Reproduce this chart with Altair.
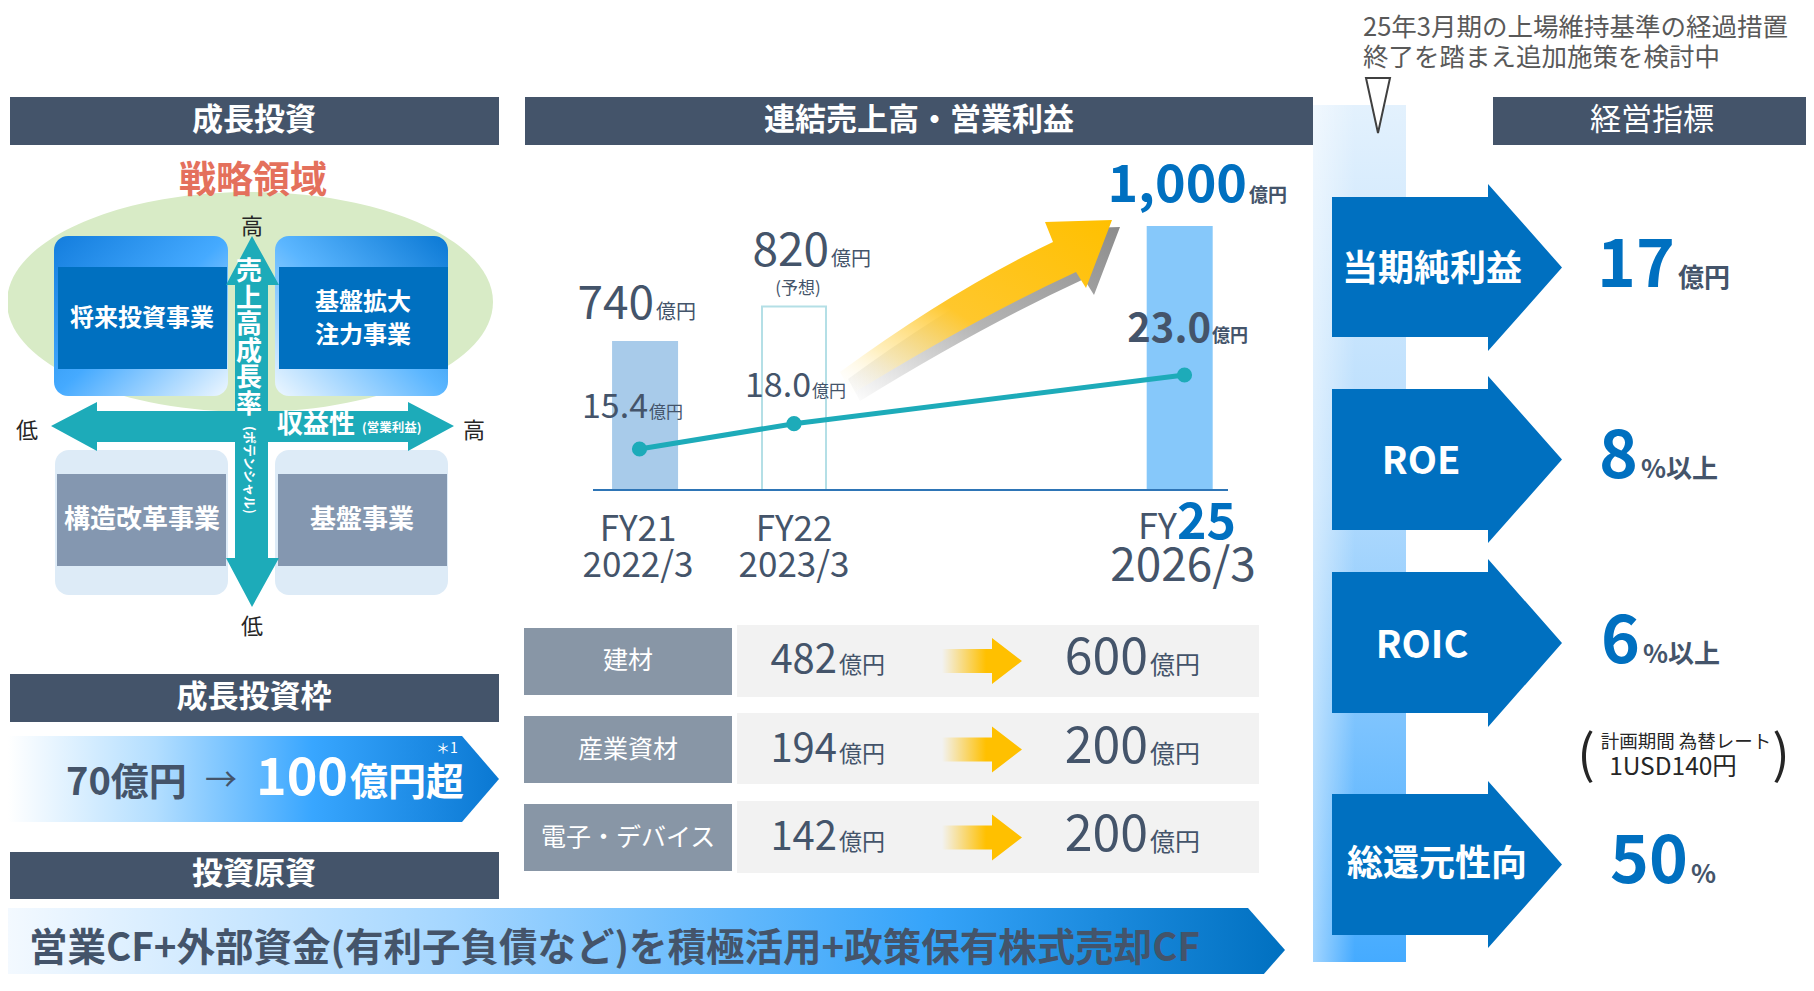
import altair as alt
import pandas as pd

# ---------------- data ----------------
fiscal_years = [21, 22, 25]
fy_labels = ["FY21", "FY22", "FY25"]
period_labels = ["2022/3", "2023/3", "2026/3"]
sales = [740, 820, 1000]            # 連結売上高 (億円)
op_profit = [15.4, 18.0, 23.0]      # 営業利益 (億円)
segments = ["建材", "産業資材", "電子・デバイス"]
segment_fy21 = [482, 194, 142]
segment_fy25 = [600, 200, 200]
kpi_names = ["当期純利益", "ROE", "ROIC", "総還元性向"]
kpi_values = ["17", "8", "6", "50"]
kpi_units = ["億円", "%以上", "%以上", "%"]
quadrants = ["将来投資事業", "基盤拡大\n注力事業", "構造改革事業", "基盤事業"]
growth_frame = ["70億円", "100", "億円超"]
fund_source = "営業CF+外部資金(有利子負債など)を積極活用+政策保有株式売却CF"
note_lines = ["25年3月期の上場維持基準の経過措置", "終了を踏まえ追加施策を検討中"]
fx_note = ["計画期間 為替レート", "1USD140円"]

# ---------------- styles ----------------
FONT = "Noto Sans CJK JP"
DARK = "#44546A"
HDR = "#44546A"
BLUE = "#0070C0"
TEAL = "#1DABB9"
WHITE = "#FFFFFF"
INK = "#262626"
bar_fills = ["#A8CBEA", "#FFFFFF", "#86C8FA"]
bar_strokes = ["#A8CBEA", "#B4DFE6", "#86C8FA"]

W, H = 1798, 966
OX, OY = 8, 8


def PX(f):
    return alt.X(f"{f}:Q", scale=alt.Scale(domain=[OX, OX + W], range=[0, W], nice=False, zero=False), axis=None)


def PY(f):
    return alt.Y(f"{f}:Q", scale=alt.Scale(domain=[OY, OY + H], range=[0, H], nice=False, zero=False), axis=None)


def grad(stops, x1=0, y1=0, x2=1, y2=0):
    return alt.LinearGradient(
        gradient="linear",
        stops=[alt.GradientStop(color=c, offset=o) for o, c in stops],
        x1=x1, y1=y1, x2=x2, y2=y2,
    )


# ---------------- layout: rectangles ----------------
rects = pd.DataFrame([
    # headers
    (10, 499, 97, 145, HDR, 0),
    (525, 1313, 97, 145, HDR, 0),
    (1493, 1812, 97, 145, HDR, 0),
    (10, 499, 674, 722, HDR, 0),
    (10, 499, 852, 899, HDR, 0),
    # lower quadrant frames
    (55, 228, 450, 595, "#DDEBF7", 14),
    (275, 448, 450, 595, "#DDEBF7", 14),
    # quadrant cores
    (58, 227, 267, 369, BLUE, 0),
    (279, 448, 267, 369, BLUE, 0),
    (57, 226, 474, 566, "#8497B0", 0),
    (278, 447, 474, 566, "#8497B0", 0),
    # table
    (524, 732, 628, 695, "#8896A6", 0),
    (524, 732, 716, 783, "#8896A6", 0),
    (524, 732, 804, 871, "#8896A6", 0),
    (737, 1259, 625, 697, "#F2F2F2", 0),
    (737, 1259, 713, 784, "#F2F2F2", 0),
    (737, 1259, 801, 873, "#F2F2F2", 0),
], columns=["x", "x2", "y", "y2", "fill", "r"])

row_centers = [661, 749.5, 837.5]


def rect_layers(df):
    out = []
    # rounded frames first, square cores on top
    for r, g in sorted(df.groupby("r"), key=lambda t: -t[0]):
        out.append(
            alt.Chart(g.reset_index(drop=True)).mark_rect(cornerRadius=float(r)).encode(
                x=PX("x"), x2=alt.X2("x2"), y=PY("y"), y2=alt.Y2("y2"),
                fill=alt.Fill("fill:N", scale=None),
            )
        )
    return out


def one_rect(x, x2, y, y2, fill, r=0):
    return alt.Chart(pd.DataFrame([dict(x=x, x2=x2, y=y, y2=y2)])).mark_rect(
        cornerRadius=r, fill=fill).encode(x=PX("x"), x2=alt.X2("x2"), y=PY("y"), y2=alt.Y2("y2"))


# ---------------- layout: polygons ----------------
def arrow_right(sid, x0, xb, xt, y0, y1, hy0=None, hy1=None):
    hy0 = y0 if hy0 is None else hy0
    hy1 = y1 if hy1 is None else hy1
    yc = (hy0 + hy1) / 2
    return [dict(sid=sid, x=x0, y=y0, y2=y1), dict(sid=sid, x=xb, y=y0, y2=y1),
            dict(sid=sid, x=xb + 0.01, y=hy0, y2=hy1), dict(sid=sid, x=xt, y=yc, y2=yc)]


def area_layer(rows, **mark):
    return alt.Chart(pd.DataFrame(rows)).mark_area(orient="vertical", **mark).encode(
        x=PX("x"), y=PY("y"), y2=alt.Y2("y2"), detail="sid:N")


def varea_layer(rows, **mark):
    return alt.Chart(pd.DataFrame(rows)).mark_area(orient="horizontal", **mark).encode(
        y=PY("y"), x=PX("x"), x2=alt.X2("x2"), detail="sid:N")


h_arrow = [dict(sid="h", x=51, y=426, y2=426), dict(sid="h", x=97, y=402, y2=451),
           dict(sid="h", x=97.01, y=411, y2=442), dict(sid="h", x=408, y=411, y2=442),
           dict(sid="h", x=408.01, y=402, y2=451), dict(sid="h", x=454, y=426, y2=426)]
v_arrow = [dict(sid="v", y=236, x=252, x2=252), dict(sid="v", y=285, x=226, x2=279),
           dict(sid="v", y=285.01, x=235, x2=268), dict(sid="v", y=558, x=235, x2=268),
           dict(sid="v", y=558.01, x=226, x2=279), dict(sid="v", y=607, x=252, x2=252)]
triangle = [dict(sid="t", y=78, x=1366, x2=1390), dict(sid="t", y=133, x=1378, x2=1378)]

kpi_rows = [(197, 337, 184, 351), (389, 530, 376, 543), (572, 713, 559, 727), (794, 935, 781, 948)]
kpi_arrows = []
for i, (a, b, c, d) in enumerate(kpi_rows):
    kpi_arrows += arrow_right(f"k{i}", 1332, 1488, 1562, a, b, c, d)

table_arrows = []
for i, c in enumerate(row_centers):
    table_arrows += arrow_right(f"t{i}", 942, 992, 1022, c - 12, c + 12, c - 23, c + 23)

growth_banner = arrow_right("g", 8, 462, 499, 736, 822)
fund_banner = arrow_right("f", 8, 1248, 1285, 908, 992)

# custom-path shapes (size=4 -> path units are pixels)
ELLIPSE = "M-243,0A243,110,0,1,1,243,0A243,110,0,1,1,-243,0Z"
BIG_ARROW = "M0,0L-67,2L-59,22Q-160,70,-272,152L-260,174Q-140,100,-36,52L-26,68Z"


def shape_layer(x, y, path, fill):
    return alt.Chart(pd.DataFrame([dict(x=x, y=y)])).mark_point(
        shape=path, size=4, filled=True, fill=fill, opacity=1, strokeWidth=0
    ).encode(x=PX("x"), y=PY("y"))


# ---------------- texts ----------------
T = []


def txt(x, y, text, size, color=DARK, weight="normal", align="center", baseline="middle", angle=0):
    T.append(dict(x=x, y=y, text=text, size=size, color=color, weight=weight,
                  align=align, baseline=baseline, angle=angle))


# headers
txt(254, 121, "成長投資", 31, WHITE, "bold")
txt(919, 121, "連結売上高・営業利益", 31, WHITE, "bold")
txt(1652, 121, "経営指標", 31, WHITE, "normal")
txt(254, 698, "成長投資枠", 31, WHITE, "bold")
txt(254, 875, "投資原資", 31, WHITE, "bold")

# quadrant
txt(253, 182, "戦略領域", 37, "#E4705C", "bold")
txt(142, 319, quadrants[0], 24, WHITE, "bold")
for k, line in enumerate(quadrants[1].split("\n")):
    txt(363, 303 + 33 * k, line, 24, WHITE, "bold")
txt(142, 520, quadrants[2], 26, WHITE, "bold")
txt(362, 520, quadrants[3], 26, WHITE, "bold")
for k, ch in enumerate("売上高成長率"):
    txt(249, 272 + 26.5 * k, ch, 26, WHITE, "bold")
txt(249, 470, "(ポテンシャル)", 13, WHITE, "bold", angle=90)
txt(277, 425, "収益性", 26, WHITE, "bold", align="left")
txt(362, 428, "(営業利益)", 12.5, WHITE, "bold", align="left")
txt(252, 227, "高", 22, INK)
txt(27, 431, "低", 22, INK)
txt(474, 431, "高", 22, INK)
txt(252, 627, "低", 22, INK)

# bar chart labels
txt(654, 319, f"{sales[0]}", 46, DARK, align="right", baseline="alphabetic")
txt(656, 319, "億円", 20, DARK, align="left", baseline="alphabetic")
txt(829, 266, f"{sales[1]}", 46, DARK, align="right", baseline="alphabetic")
txt(831, 266, "億円", 20, DARK, align="left", baseline="alphabetic")
txt(798, 289, "(予想)", 17, DARK)
txt(1247, 202, f"{sales[2]:,}", 52, BLUE, "bold", align="right", baseline="alphabetic")
txt(1249, 202, "億円", 19, DARK, "bold", align="left", baseline="alphabetic")
txt(648, 418, f"{op_profit[0]:.1f}", 34, DARK, align="right", baseline="alphabetic")
txt(649, 418, "億円", 17, DARK, align="left", baseline="alphabetic")
txt(811, 397, f"{op_profit[1]:.1f}", 34, DARK, align="right", baseline="alphabetic")
txt(812, 397, "億円", 17, DARK, align="left", baseline="alphabetic")
txt(1211, 342, f"{op_profit[2]:.1f}", 40, DARK, "bold", align="right", baseline="alphabetic")
txt(1212, 342, "億円", 18, DARK, "bold", align="left", baseline="alphabetic")
txt(638, 530, fy_labels[0], 35)
txt(638, 566, period_labels[0], 35)
txt(794, 530, fy_labels[1], 35)
txt(794, 566, period_labels[1], 35)
txt(1177, 539, fy_labels[2][:2], 36, DARK, align="right", baseline="alphabetic")
txt(1177, 539, fy_labels[2][2:], 50, BLUE, "bold", align="left", baseline="alphabetic")
txt(1183, 567, period_labels[2], 46)

# segment table
for i, seg in enumerate(segments):
    c = row_centers[i]
    txt(628, c, seg, 25, WHITE)
    txt(837, c + 12, f"{segment_fy21[i]}", 40, DARK, align="right", baseline="alphabetic")
    txt(839, c + 12, "億円", 23, DARK, align="left", baseline="alphabetic")
    txt(1148, c + 13, f"{segment_fy25[i]}", 50, DARK, align="right", baseline="alphabetic")
    txt(1150, c + 13, "億円", 25, DARK, align="left", baseline="alphabetic")

# growth frame / funding
txt(66, 795, growth_frame[0], 38, DARK, "bold", align="left", baseline="alphabetic")
txt(221, 781, "→", 32, DARK)
txt(348, 795, growth_frame[1], 52, WHITE, "bold", align="right", baseline="alphabetic")
txt(350, 795, growth_frame[2], 38, WHITE, "bold", align="left", baseline="alphabetic")
txt(447, 749, "＊1", 14, WHITE)
txt(29, 949, fund_source, 38.5, DARK, "bold", align="left")

# right panel
txt(1363, 28, note_lines[0], 25.5, "#595959", align="left")
txt(1363, 58, note_lines[1], 25.5, "#595959", align="left")
kpi_label_pos = [(1432, 270, 36), (1421, 463, 38), (1422, 647, 38), (1437, 865, 36)]
kpi_value_pos = [(1675, 287), (1638, 478), (1640, 663), (1688, 883)]
for i in range(4):
    lx, ly, ls = kpi_label_pos[i]
    txt(lx, ly, kpi_names[i], ls, WHITE, "bold")
    vx, vy = kpi_value_pos[i]
    txt(vx, vy, kpi_values[i], 66, BLUE, "bold", align="right", baseline="alphabetic")
    txt(vx + 3, vy, kpi_units[i], 26, DARK, "bold", align="left", baseline="alphabetic")
txt(1586, 757, "(", 52, INK)
txt(1781, 757, ")", 52, INK)
txt(1686, 742, fx_note[0], 18.5, INK)
txt(1673, 768, fx_note[1], 24.5, INK)

texts = pd.DataFrame(T)


def text_layers(df):
    out = []
    for (w, a, b), g in df.groupby(["weight", "align", "baseline"]):
        out.append(
            alt.Chart(g.reset_index(drop=True)).mark_text(font=FONT, fontWeight=w, align=a, baseline=b).encode(
                x=PX("x"), y=PY("y"), text="text:N",
                size=alt.Size("size:Q", scale=None),
                color=alt.Color("color:N", scale=None),
                angle=alt.Angle("angle:Q", scale=None),
            )
        )
    return out


# ---------------- decoration (background) ----------------
bg = []
bg.append(shape_layer(250, 302, ELLIPSE, "#D8EBC6"))
bg.append(one_rect(54, 228, 236, 396,
                   grad([(0, "#137DDD"), (0.5, "#45AAFF"), (1, "#EEF7FF")], 0, 0, 1, 1), 14))
bg.append(one_rect(275, 448, 236, 396,
                   grad([(0, "#EEF7FF"), (0.5, "#5BB6FF"), (1, "#0A78D4")], 0, 1, 1, 0), 14))
bg += rect_layers(rects)
# light blue vertical band
bg.append(one_rect(1313, 1406, 105, 962,
                   grad([(0, "#E3F1FD"), (0.45, "#B3DBFD"), (1, "#45ABFF")], 0, 0, 0, 1)))
bg.append(one_rect(1313, 1406, 105, 962,
                   grad([(0, "rgba(255,255,255,0.5)"), (0.45, "rgba(255,255,255,0)"), (1, "rgba(255,255,255,0)")])))
bg.append(area_layer(h_arrow, color=TEAL, opacity=1))
bg.append(varea_layer(v_arrow, color=TEAL, opacity=1))
bg.append(area_layer(kpi_arrows, color=BLUE, opacity=1))
bg.append(varea_layer(triangle, fill="white", stroke="#404040", strokeWidth=2, opacity=1))
bg.append(area_layer(table_arrows, opacity=1,
                     fill=grad([(0, "rgba(255,192,0,0)"), (0.55, "#FFC000"), (1, "#FFC000")])))
bg.append(area_layer(growth_banner, opacity=1,
                     fill=grad([(0, "#FFFFFF"), (0.3, "#B3DEFF"), (0.62, "#38A6FF"), (1, "#0A78D2")])))
bg.append(area_layer(fund_banner, opacity=1,
                     fill=grad([(0, "#F3F9FF"), (0.35, "#A4D6FF"), (0.72, "#36A4FA"), (1, "#0070C0")])))
# big yellow growth arrow with shadow
bg.append(shape_layer(1120, 227, BIG_ARROW,
                      grad([(0, "rgba(150,150,150,0)"), (0.45, "rgba(150,150,150,0.7)"), (1, "#8C8C8C")], 0, 1, 1, 0)))
bg.append(shape_layer(1112, 220, BIG_ARROW,
                      grad([(0, "rgba(255,255,255,0)"), (0.2, "rgba(255,232,160,0.7)"),
                            (0.45, "#FFC72C"), (1, "#FFC000")], 0, 1, 1, 0)))
decor_bg = alt.layer(*bg)

# ---------------- data layers ----------------
X_FY = alt.X("fy:Q", scale=alt.Scale(domain=fiscal_years, range=[631.5, 786, 1176.5], nice=False, zero=False),
             axis=None)
sales_df = pd.DataFrame({"fy": fiscal_years, "sales": sales, "fill": bar_fills, "stroke": bar_strokes})
sales_base = 405
bars = alt.Chart(sales_df).mark_bar(size=64, strokeWidth=2).encode(
    x=X_FY,
    y=alt.Y("sales:Q", scale=alt.Scale(domain=[sales_base, max(sales)], range=[482, 219], nice=False, zero=False),
            axis=None),
    y2=alt.datum(sales_base),
    fill=alt.Fill("fill:N", scale=None),
    stroke=alt.Stroke("stroke:N", scale=None),
)
sales_layer = alt.layer(bars)

profit_df = pd.DataFrame({"fy": fiscal_years, "profit": op_profit})
Y_P = alt.Y("profit:Q", scale=alt.Scale(domain=[min(op_profit), max(op_profit)], range=[441, 367],
                                        nice=False, zero=False), axis=None)
profit_layer = alt.layer(
    alt.Chart(profit_df).mark_line(color=TEAL, strokeWidth=5).encode(x=X_FY, y=Y_P),
    alt.Chart(profit_df).mark_circle(color=TEAL, size=230, opacity=1).encode(x=X_FY, y=Y_P),
)

# ---------------- top decoration ----------------
base_rule = alt.Chart(pd.DataFrame([dict(x=593, x2=1228, y=490)])).mark_rule(color="#2E75B6", strokeWidth=2).encode(
    x=PX("x"), x2=alt.X2("x2"), y=PY("y"))
decor_top = alt.layer(base_rule, *text_layers(texts))

chart = alt.layer(decor_bg, sales_layer, profit_layer, decor_top).resolve_scale(
    x="independent", y="independent"
).properties(
    width=W, height=H, padding=0, autosize=alt.AutoSizeParams(type="none"), background="white"
).configure_view(stroke=None)

chart.save("out.html", embed_options={"renderer": "svg", "actions": False})
